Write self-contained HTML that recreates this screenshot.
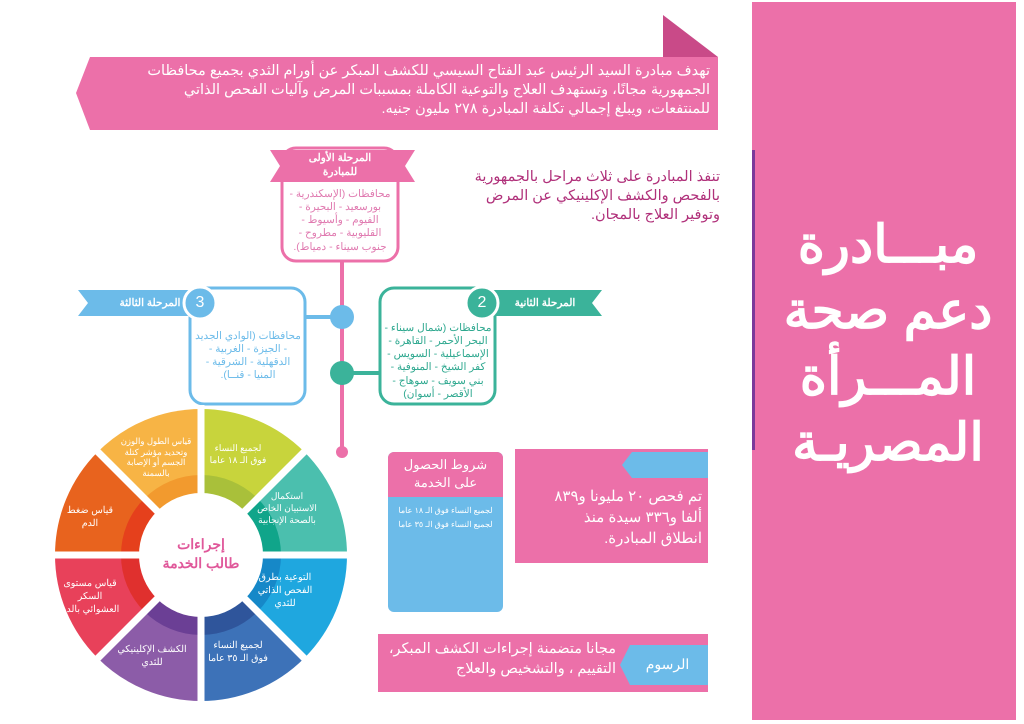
<!DOCTYPE html>
<html><head><meta charset="utf-8"><style>
body{margin:0;width:1024px;height:724px;background:#fff;position:relative;overflow:hidden;font-family:"Liberation Sans","Noto Sans CJK SC",sans-serif}
.t{position:absolute;direction:rtl;text-align:center;line-height:1.35}
</style></head><body>
<svg width="1024" height="724" style="position:absolute;left:0;top:0">
<rect x="752" y="2" width="264" height="718" fill="#ec70a9"/>
<rect x="752" y="150" width="3" height="300" fill="#7b3a9a"/>
<polygon points="663,15 718,57 663,57" fill="#c94a88"/>
<polygon points="90,57 718,57 718,130 90,130 76,93" fill="#ec70a9"/>
<line x1="342" y1="262" x2="342" y2="450" stroke="#ec70a9" stroke-width="4"/>
<circle cx="342" cy="452" r="6" fill="#ec70a9"/>
<line x1="300" y1="317" x2="342" y2="317" stroke="#6cbbe9" stroke-width="4"/>
<line x1="342" y1="373" x2="385" y2="373" stroke="#3bb39a" stroke-width="4"/>
<circle cx="342" cy="317" r="12" fill="#6cbbe9"/>
<circle cx="342" cy="373" r="12" fill="#3bb39a"/>
<rect x="282" y="148" width="116" height="113" rx="14" fill="#fff" stroke="#ec70a9" stroke-width="3"/>
<polygon points="270,150 415,150 405,166 415,182 270,182 280,166" fill="#ec70a9"/>
<rect x="190" y="288" width="115" height="116" rx="14" fill="#fff" stroke="#6cbbe9" stroke-width="3"/>
<polygon points="78,290 200,290 200,316 78,316 88,303" fill="#6cbbe9"/>
<circle cx="200" cy="303" r="16" fill="#6cbbe9" stroke="#fff" stroke-width="3"/>
<rect x="380" y="288" width="115" height="116" rx="14" fill="#fff" stroke="#3bb39a" stroke-width="3"/>
<polygon points="482,290 602,290 592,303 602,316 482,316" fill="#3bb39a"/>
<circle cx="482" cy="303" r="16" fill="#3bb39a" stroke="#fff" stroke-width="3"/>
<g>
<path d="M201 555 L201 409 A146 146 0 0 1 304.2 451.8Z" fill="#c8d43c"/>
<path d="M201 555 L304.2 451.8 A146 146 0 0 1 347 555Z" fill="#4bbfae"/>
<path d="M201 555 L347 555 A146 146 0 0 1 304.2 658.2Z" fill="#1fa7df"/>
<path d="M201 555 L304.2 658.2 A146 146 0 0 1 201 701Z" fill="#3d72b8"/>
<path d="M201 555 L201 701 A146 146 0 0 1 97.8 658.2Z" fill="#8c5ca8"/>
<path d="M201 555 L97.8 658.2 A146 146 0 0 1 55 555Z" fill="#e8415a"/>
<path d="M201 555 L55 555 A146 146 0 0 1 97.8 451.8Z" fill="#e8631e"/>
<path d="M201 555 L97.8 451.8 A146 146 0 0 1 201 409Z" fill="#f7b445"/>
<path d="M201 555 L201 475 A80 80 0 0 1 257.6 498.4Z" fill="#a9c03a"/>
<path d="M201 555 L257.6 498.4 A80 80 0 0 1 281 555Z" fill="#10a58a"/>
<path d="M201 555 L281 555 A80 80 0 0 1 257.6 611.6Z" fill="#1688c8"/>
<path d="M201 555 L257.6 611.6 A80 80 0 0 1 201 635Z" fill="#2f559b"/>
<path d="M201 555 L201 635 A80 80 0 0 1 144.4 611.6Z" fill="#6b3f95"/>
<path d="M201 555 L144.4 611.6 A80 80 0 0 1 121 555Z" fill="#e0302e"/>
<path d="M201 555 L121 555 A80 80 0 0 1 144.4 498.4Z" fill="#e5401c"/>
<path d="M201 555 L144.4 498.4 A80 80 0 0 1 201 475Z" fill="#f29a2e"/>
<g stroke="#fff" stroke-width="7">
<line x1="201" y1="405" x2="201" y2="705"/><line x1="51" y1="555" x2="351" y2="555"/>
<line x1="95" y1="449" x2="307" y2="661"/><line x1="307" y1="449" x2="95" y2="661"/>
</g>
<circle cx="201" cy="555" r="62" fill="#fff"/>
</g>
<rect x="388" y="452" width="115" height="160" rx="6" fill="#6cbbe9"/>
<path d="M388 497 V458 a6 6 0 0 1 6 -6 H497 a6 6 0 0 1 6 6 V497Z" fill="#ec70a9"/>
<rect x="515" y="449" width="193" height="114" fill="#ec70a9"/>
<polygon points="632,452 708,452 708,478 632,478 622,465" fill="#6cbbe9"/>
<rect x="378" y="634" width="330" height="58" fill="#ec70a9"/>
<polygon points="630,645 708,645 708,685 630,685 620,665" fill="#6cbbe9"/>
</svg>

<div class="t" style="left:145px;top:62px;width:565px;text-align:right;color:#fff;font-size:14.5px;line-height:1.3">تهدف مبادرة السيد الرئيس عبد الفتاح السيسي للكشف المبكر عن أورام الثدي بجميع محافظات الجمهورية مجانًا، وتستهدف العلاج والتوعية الكاملة بمسببات المرض وآليات الفحص الذاتي للمنتفعات، ويبلغ إجمالي تكلفة المبادرة ٢٧٨ مليون جنيه.</div>

<div class="t" style="left:770px;top:212px;width:236px;color:#fff;font-size:52px;font-weight:bold;line-height:66px">مبـــادرة<br>دعم صحة<br>المـــرأة<br>المصريـة</div>

<div class="t" style="left:470px;top:168px;width:250px;text-align:right;color:#b0307a;font-size:14.5px;line-height:1.3">تنفذ المبادرة على ثلاث مراحل بالجمهورية بالفحص والكشف الإكلينيكي عن المرض وتوفير العلاج بالمجان.</div>

<div class="t" style="left:290px;top:152px;width:100px;color:#fff;font-size:10.5px;font-weight:bold;line-height:1.3">المرحلة الأولى<br>للمبادرة</div>
<div class="t" style="left:286px;top:188px;width:108px;color:#e07ab0;font-size:10.5px;line-height:1.25">محافظات (الإسكندرية - بورسعيد - البحيرة - الفيوم - وأسيوط - القليوبية - مطروح - جنوب سيناء - دمياط).</div>

<div class="t" style="left:100px;top:296px;width:100px;color:#fff;font-size:10.5px;font-weight:bold">المرحلة الثالثة</div>
<div class="t" style="left:186px;top:292px;width:28px;color:#fff;font-size:16px">3</div>
<div class="t" style="left:194px;top:330px;width:108px;color:#6cbbe9;font-size:10.5px;line-height:1.25">محافظات (الوادي الجديد - الجيزة - الغربية - الدقهلية - الشرقية - المنيا - قنــا).</div>

<div class="t" style="left:500px;top:296px;width:90px;color:#fff;font-size:10.5px;font-weight:bold">المرحلة الثانية</div>
<div class="t" style="left:468px;top:292px;width:28px;color:#fff;font-size:16px">2</div>
<div class="t" style="left:384px;top:322px;width:108px;color:#2ea88f;font-size:10.5px;line-height:1.25">محافظات (شمال سيناء - البحر الأحمر - القاهرة - الإسماعيلية - السويس - كفر الشيخ - المنوفية - بني سويف - سوهاج - الأقصر - أسوان)</div>

<div class="t" style="left:151px;top:535px;width:100px;color:#e0589a;font-size:14px;font-weight:bold;line-height:1.35">إجراءات<br>طالب الخدمة</div>
<div class="t" style="left:207px;top:442px;width:62px;color:#fff;font-size:9px">لجميع النساء فوق الـ ١٨ عاما</div>
<div class="t" style="left:256px;top:490px;width:62px;color:#fff;font-size:9px">استكمال الاستبيان الخاص بالصحة الإنجابية</div>
<div class="t" style="left:252px;top:572px;width:66px;color:#fff;font-size:9.5px">التوعية بطرق الفحص الذاتي للثدي</div>
<div class="t" style="left:207px;top:640px;width:62px;color:#fff;font-size:9.5px">لجميع النساء فوق الـ ٣٥ عاما</div>
<div class="t" style="left:115px;top:644px;width:74px;color:#fff;font-size:9.5px">الكشف الإكلينيكي للثدي</div>
<div class="t" style="left:60px;top:578px;width:60px;color:#fff;font-size:9.5px">قياس مستوى السكر العشوائي بالدم</div>
<div class="t" style="left:65px;top:505px;width:50px;color:#fff;font-size:9.5px">قياس ضغط الدم</div>
<div class="t" style="left:118px;top:436px;width:76px;color:#fff;font-size:8.5px;line-height:1.25">قياس الطول والوزن وتحديد مؤشر كتلة الجسم أو الإصابة بالسمنة</div>

<div class="t" style="left:390px;top:456px;width:111px;color:#fff;font-size:13px;line-height:1.35">شروط الحصول<br>على الخدمة</div>
<div class="t" style="left:390px;top:504px;width:111px;color:#fff;font-size:8px;line-height:1.7">لجميع النساء فوق الـ ١٨ عاما<br>لجميع النساء فوق الـ ٣٥ عاما</div>
<div class="t" style="left:540px;top:486px;width:162px;text-align:right;color:#fff;font-size:15px;line-height:1.4">تم فحص ٢٠ مليونا و٨٣٩ ألفا و٣٣٦ سيدة منذ انطلاق المبادرة.</div>
<div class="t" style="left:630px;top:655px;width:75px;color:#fff;font-size:14px">الرسوم</div>
<div class="t" style="left:388px;top:639px;width:228px;text-align:right;color:#fff;font-size:14.5px;line-height:1.4">مجانا متضمنة إجراءات الكشف المبكر، التقييم ، والتشخيص والعلاج</div>
</body></html>
